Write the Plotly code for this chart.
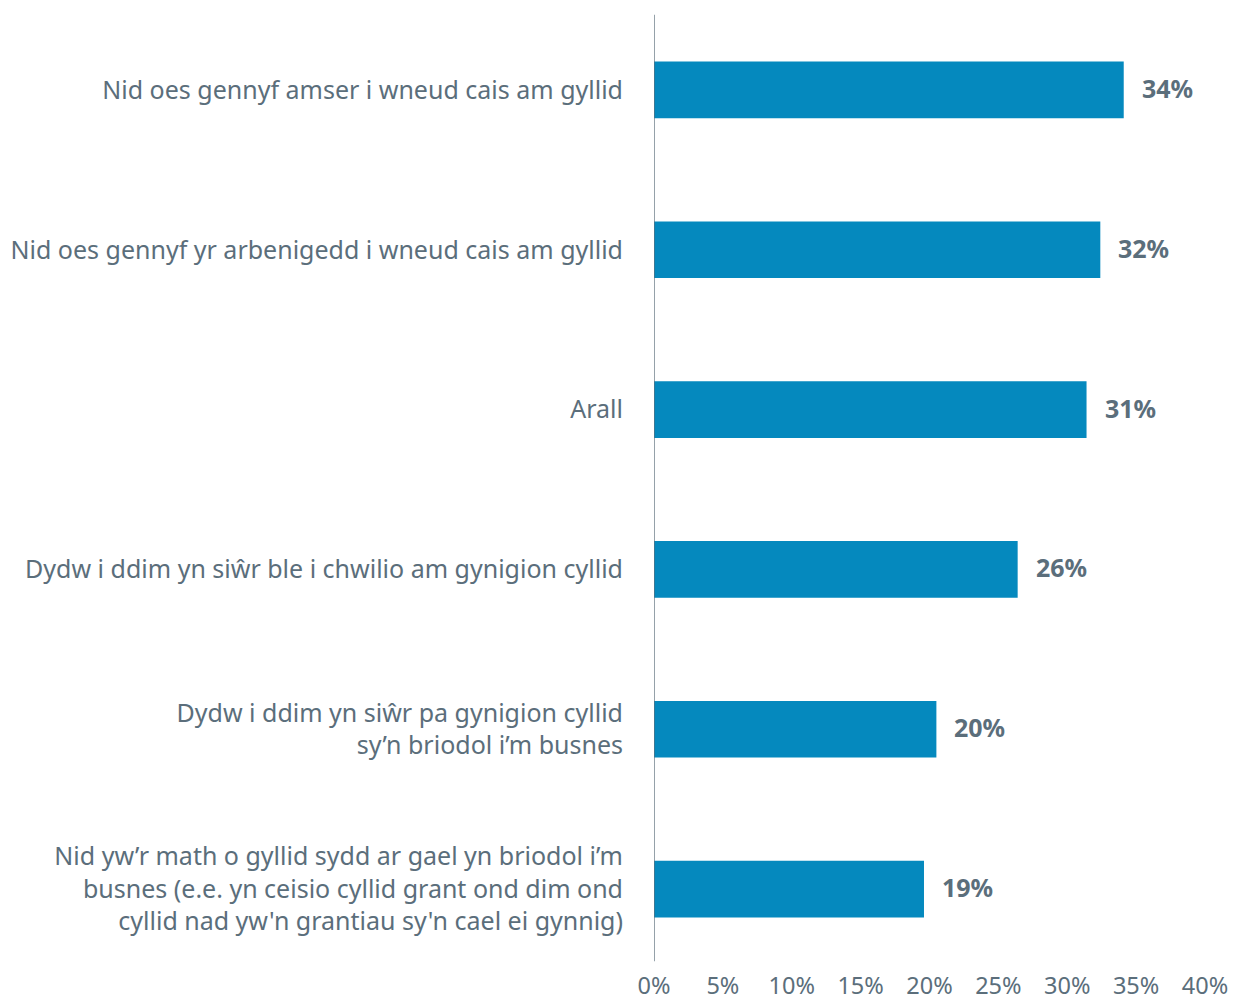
import plotly.graph_objects as go

categories = [
    "Nid oes gennyf amser i wneud cais am gyllid",
    "Nid oes gennyf yr arbenigedd i wneud cais am gyllid",
    "Arall",
    "Dydw i ddim yn siŵr ble i chwilio am gynigion cyllid",
    "Dydw i ddim yn siŵr pa gynigion cyllid<br>sy’n briodol i’m busnes",
    "Nid yw’r math o gyllid sydd ar gael yn briodol i’m<br>busnes (e.e. yn ceisio cyllid grant ond dim ond<br>cyllid nad yw'n grantiau sy'n cael ei gynnig)",
]
values = [34.1, 32.4, 31.4, 26.4, 20.5, 19.6]
value_labels = ["34%", "32%", "31%", "26%", "20%", "19%"]
tick_vals = [0, 5, 10, 15, 20, 25, 30, 35, 40]
tick_text = [f"{v}%" for v in tick_vals]

text_color = "#5b6e7b"
bar_color = "#0589be"
font_family = "Noto Sans, Open Sans, sans-serif"

fig = go.Figure()
fig.add_trace(go.Bar(
    x=values, y=categories, orientation="h",
    marker_color=bar_color, marker_line_width=0,
    hoverinfo="skip",
))

# value labels next to each bar
for cat, val, lab in zip(categories, values, value_labels):
    fig.add_annotation(
        x=val, y=cat, text=f"<b>{lab}</b>", showarrow=False,
        xanchor="left", xshift=16, yshift=2,
        font=dict(size=25, color=text_color, family=font_family),
    )

# vertical axis line
fig.add_shape(
    type="line", xref="x", yref="paper", x0=0, x1=0, y0=0.008, y1=0.995,
    line=dict(color=text_color, width=1.3),
)

# the page adds an 8px body margin, so the figure is a bit smaller than the window
fig.update_layout(
    width=1228, height=994,
    margin=dict(l=646, r=31, t=2, b=33),
    plot_bgcolor="white", paper_bgcolor="white",
    bargap=0.645,
    showlegend=False,
    font=dict(family=font_family, color=text_color, size=25),
    xaxis=dict(
        range=[0, 40], tickvals=tick_vals, ticktext=tick_text,
        showgrid=False, zeroline=False, showline=False, automargin=False,
        tickfont=dict(size=23.5, color=text_color),
    ),
    yaxis=dict(
        autorange="reversed", showgrid=False, zeroline=False, showline=False,
        automargin=False, ticklabelstandoff=30,
        tickfont=dict(size=25, color=text_color),
    ),
)

fig.write_html("out.html")
